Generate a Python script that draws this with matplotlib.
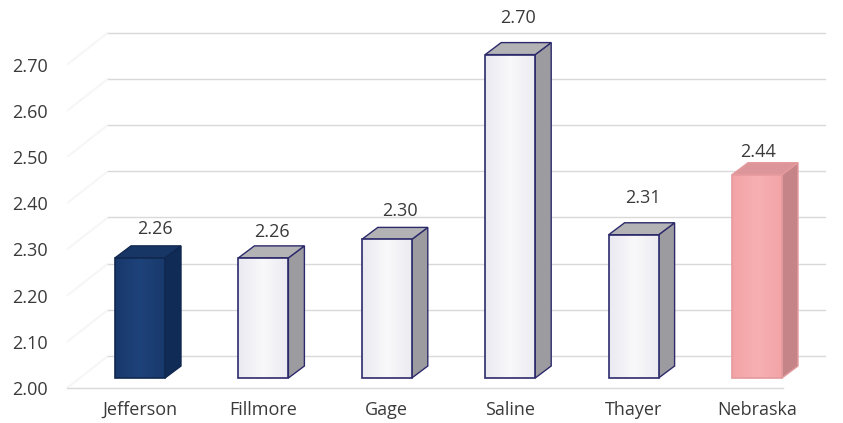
import numpy as np
import matplotlib
matplotlib.use("Agg")
import matplotlib.pyplot as plt
from matplotlib.patches import Polygon, Rectangle
from matplotlib.colors import LinearSegmentedColormap

# ---- data ----
counties = ["Jefferson", "Fillmore", "Gage", "Saline", "Thayer", "Nebraska"]
values = [2.26, 2.26, 2.30, 2.70, 2.31, 2.44]
value_labels = ["2.26", "2.26", "2.30", "2.70", "2.31", "2.44"]
y_ticks = [2.00, 2.10, 2.20, 2.30, 2.40, 2.50, 2.60, 2.70]
y_tick_labels = ["2.00", "2.10", "2.20", "2.30", "2.40", "2.50", "2.60", "2.70"]

# ---- styling ----
W, H, DPI = 843, 423, 100
FONT = ["Open Sans", "DejaVu Sans"]
FS = 13
TEXT = "#3a3a3a"
GRID = "#d9d9d9"

# pixel scale of the front plane
PX_X = 123.4          # pixels per category
PX_Y = 462.0          # pixels per 1.0 of value
X0_PX = 140.0         # pixel x of the first category
AX_LEFT, AX_BOTTOM_FROM_TOP = 62, 388

def ux(px):
    return px / PX_X

def uy(px):
    return px / PX_Y

# depth of the back wall and of the bars (pixels)
WALL_DX, WALL_DY = 42, 32
BAR_DX, BAR_DY = 16, 12
BAR_SHIFT_DY = 10     # bars sit slightly behind the front plane
BAR_W = 50

LIGHT = dict(front=("#e9e9f0", "#f9f9fb", "#ebebf1"), top="#b3b3b6", side="#9c9ca0", edge="#2c2a6b")
styles = [
    dict(front=("#18386b", "#1e437a", "#18396c"), top="#173565", side="#102b56", edge="#10284f"),
    LIGHT, LIGHT, LIGHT, LIGHT,
    dict(front=("#f3a3a6", "#f7b0b2", "#f3a4a7"), top="#dc9598", side="#c48488", edge="#e59a9d"),
]
# value label nudges (pixels right / above the back top edge)
label_nudge = [(15, 17), (9, 14), (13, 16), (8, 25), (9, 25), (1, 11)]

plt.rcParams["font.family"] = FONT
fig = plt.figure(figsize=(W / DPI, H / DPI), dpi=DPI)
fig.patch.set_facecolor("white")
ax = fig.add_axes([AX_LEFT / W, (H - AX_BOTTOM_FROM_TOP) / H,
                   (W - AX_LEFT) / W, AX_BOTTOM_FROM_TOP / H])
ax.set_xlim((AX_LEFT - X0_PX) / PX_X, (W - X0_PX) / PX_X)
ax.set_ylim(y_ticks[0], y_ticks[0] + AX_BOTTOM_FROM_TOP / PX_Y)
ax.set_facecolor("none")
for s in ax.spines.values():
    s.set_visible(False)

x_front_left = ux(67 - X0_PX)
x_back_left = ux(108 - X0_PX)
x_back_right = ux(825 - X0_PX)
x_front_right = x_back_right - ux(WALL_DX)

# side wall diagonals and back wall gridlines
for v in y_ticks:
    ax.plot([x_front_left, x_back_left], [v, v + uy(WALL_DY)],
            color="#f6f6f6", lw=1.5, zorder=1, solid_capstyle="butt")
    ax.plot([x_back_left, x_back_right], [v + uy(WALL_DY)] * 2,
            color=GRID, lw=1.0, zorder=1)
# floor front edge
ax.plot([x_front_left, x_front_right], [y_ticks[0], y_ticks[0]],
        color=GRID, lw=1.0, zorder=1, clip_on=False)

# bars
base = y_ticks[0] + uy(BAR_SHIFT_DY)
for i, (v, st) in enumerate(zip(values, styles)):
    x0 = i - ux(BAR_W / 2)
    x1 = i + ux(BAR_W / 2)
    top = v + uy(BAR_SHIFT_DY)
    ddx, ddy = ux(BAR_DX), uy(BAR_DY)

    side = Polygon([(x1, base), (x1 + ddx, base + ddy), (x1 + ddx, top + ddy), (x1, top)],
                   closed=True, facecolor=st["side"], edgecolor=st["edge"], lw=1.0, zorder=3)
    ax.add_patch(side)
    cap = Polygon([(x0, top), (x1, top), (x1 + ddx, top + ddy), (x0 + ddx, top + ddy)],
                  closed=True, facecolor=st["top"], edgecolor=st["edge"], lw=1.0, zorder=3)
    ax.add_patch(cap)

    cmap = LinearSegmentedColormap.from_list("f", list(st["front"]))
    grad = np.linspace(0, 1, 64).reshape(1, -1)
    im = ax.imshow(grad, cmap=cmap, extent=[x0, x1, base, top], aspect="auto",
                   zorder=4, interpolation="bicubic")
    frame = Rectangle((x0, base), x1 - x0, top - base, facecolor="none",
                      edgecolor=st["edge"], lw=1.2, zorder=5)
    ax.add_patch(frame)
    im.set_clip_path(frame)

    nx, ny = label_nudge[i]
    ax.text(i + ux(nx), top + ddy + uy(ny), value_labels[i], ha="center", va="center",
            fontsize=FS, color=TEXT, zorder=6)

ax.set_xticks(range(len(counties)))
ax.set_xticklabels(counties, fontsize=FS, color=TEXT)
ax.set_yticks(y_ticks)
ax.set_yticklabels(y_tick_labels, fontsize=FS, color=TEXT)
ax.tick_params(axis="both", length=0)
ax.tick_params(axis="y", pad=10)
ax.tick_params(axis="x", pad=9)

fig.savefig("out.png", dpi=DPI, facecolor="white")
